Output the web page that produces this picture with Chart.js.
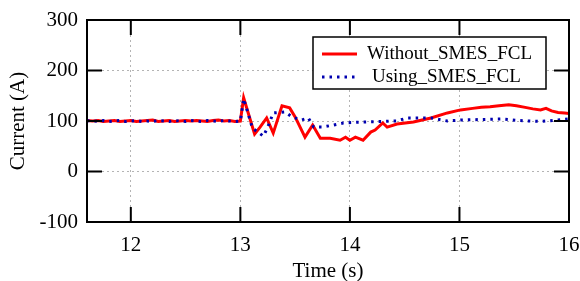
<!DOCTYPE html>
<html>
<head>
<meta charset="utf-8">
<script src="https://cdn.jsdelivr.net/npm/chart.js@4.4.0/dist/chart.umd.min.js"></script>
<style>
  html,body{margin:0;padding:0;background:#fff}
  canvas{display:block}
</style>
</head>
<body>
<canvas id="chart" width="580" height="281"></canvas>
<script>
// data
const seriesNames = ['Without_SMES_FCL', 'Using_SMES_FCL'];
const xTicks = [12, 13, 14, 15, 16];
const yTicks = [-100, 0, 100, 200, 300];

const redTime = [11.60,11.65,11.70,11.75,11.80,11.85,11.90,11.95,12.00,12.05,12.10,12.15,12.20,12.25,12.30,12.35,12.40,12.45,12.50,12.55,12.60,12.65,12.70,12.75,12.80,12.85,12.90,12.95,13.00,
  13.03,13.08,13.13,13.18,13.24,13.30,13.38,13.45,13.50,13.59,13.66,13.73,13.82,13.91,13.96,14.00,14.05,14.12,14.19,14.23,14.30,14.34,14.43,14.58,14.74,14.89,15.01,15.12,15.20,15.28,15.36,15.45,15.52,15.60,15.67,15.74,15.79,15.84,15.90,15.96,16.00];
const redCurrent = [101,100,101,99,100,101,99,100,101,99,100,101,102,99,100,101,99,100,101,100,101,100,99,101,102,100,101,99,100,
  146,110,74,88,106,76,130,126,108,68,92,66,66,62,68,62,68,62,78,82,96,88,94,98,106,116,122,125,127,128,130,132,130,127,124,122,125,120,117,116,115];

const blueTime = [11.60,11.65,11.70,11.75,11.80,11.85,11.90,11.95,12.00,12.05,12.10,12.15,12.20,12.25,12.30,12.35,12.40,12.45,12.50,12.55,12.60,12.65,12.70,12.75,12.80,12.85,12.90,12.95,13.00,
  13.03,13.11,13.21,13.25,13.30,13.41,13.47,13.56,13.62,13.67,13.75,13.85,13.94,14.12,14.43,14.52,14.74,14.89,15.01,15.20,15.38,15.55,15.74,15.90,16.00];
const blueCurrent = [101,99,100,101,99,100,101,99,100,101,99,100,99,101,100,99,101,100,99,101,100,99,101,100,99,101,100,99,100,
  144,86,70,88,116,118,108,102,106,88,88,92,96,98,100,106,106,100,102,103,104,101,99,102,104];

const FONT = 'Liberation Serif, Times New Roman, serif';

const redColor = '#ff0000';
const blueColor = '#0000b0';

// frame, inward ticks and legend box
const framePlugin = {
  id: 'frame',
  afterDatasetsDraw(chart){
    const {ctx, chartArea:a, scales:{x, y}} = chart;
    ctx.save();
    ctx.strokeStyle = '#000';
    ctx.lineWidth = 2;
    ctx.beginPath();
    xTicks.forEach(v=>{
      const px = x.getPixelForValue(v);
      if(px > a.right - 2) return;
      ctx.moveTo(px, a.bottom); ctx.lineTo(px, a.bottom - 15);
      ctx.moveTo(px, a.top); ctx.lineTo(px, a.top + 15);
    });
    yTicks.forEach(v=>{
      const py = y.getPixelForValue(v);
      if(py < a.top + 2 || py > a.bottom - 2) return;
      ctx.moveTo(a.left, py); ctx.lineTo(a.left + 15, py);
      ctx.moveTo(a.right, py); ctx.lineTo(a.right - 15, py);
    });
    ctx.stroke();
    ctx.strokeRect(a.left, a.top, a.right - a.left, a.bottom - a.top);

    // legend
    const bx = 313, by = 37, bw = 233, bh = 52;
    ctx.fillStyle = '#fff';
    ctx.fillRect(bx, by, bw, bh);
    ctx.lineWidth = 1.5;
    ctx.strokeRect(bx, by, bw, bh);
    ctx.font = '19px ' + FONT;
    ctx.textBaseline = 'middle';
    ctx.textAlign = 'left';
    chart.data.datasets.forEach((ds, i)=>{
      const ly = by + 17 + i * 23;
      ctx.beginPath();
      ctx.strokeStyle = ds.borderColor;
      ctx.lineWidth = ds.borderWidth;
      ctx.setLineDash(ds.borderDash || []);
      ctx.moveTo(bx + 9, ly); ctx.lineTo(bx + 44, ly);
      ctx.stroke();
      ctx.setLineDash([]);
      ctx.fillStyle = '#000';
      ctx.fillText(ds.label, bx + (i === 0 ? 54 : 59), ly);
    });
    ctx.restore();
  }
};

new Chart(document.getElementById('chart'), {
  type: 'line',
  data: {
    datasets: [
      {label: seriesNames[0], data: redTime.map((t,i)=>({x:t, y:redCurrent[i]})),
       borderColor: redColor, borderWidth: 3, pointRadius: 0, tension: 0, order: 1},
      {label: seriesNames[1], data: blueTime.map((t,i)=>({x:t, y:blueCurrent[i]})),
       borderColor: blueColor, borderWidth: 3, borderDash: [2.5, 5], pointRadius: 0, tension: 0, order: 0}
    ]
  },
  options: {
    responsive: false,
    animation: false,
    devicePixelRatio: 1,
    layout: {padding: {left: 0, right: 11, top: 20, bottom: 0}},
    plugins: {legend: {display: false}, tooltip: {enabled: false}},
    scales: {
      x: {
        type: 'linear', min: 11.6, max: 16,
        afterBuildTicks: s => { s.ticks = xTicks.map(v=>({value:v})); },
        afterFit: s => { s.height = 59; s.paddingRight = 0; s.paddingLeft = 0; },
        grid: {color: '#b4b4b4', lineWidth: 1, drawTicks: false},
        border: {display: false, dash: [2, 3]},
        ticks: {color: '#000', font: {family: FONT, size: 21}, padding: 11, maxRotation: 0},
        title: {display: true, text: 'Time (s)', color: '#000', font: {family: FONT, size: 21, lineHeight: 1}, padding: {top: 0, bottom: -1}}
      },
      y: {
        min: -100, max: 300,
        afterBuildTicks: s => { s.ticks = yTicks.map(v=>({value:v})); },
        afterFit: s => { s.width = 87; s.paddingTop = 0; s.paddingBottom = 0; },
        grid: {color: '#b4b4b4', lineWidth: 1, drawTicks: false},
        border: {display: false, dash: [2, 3]},
        ticks: {color: '#000', font: {family: FONT, size: 21}, padding: 9},
        title: {display: true, text: 'Current (A)', color: '#000', font: {family: FONT, size: 21, lineHeight: 1}, padding: {top: 8, bottom: 0}}
      }
    }
  },
  plugins: [framePlugin]
});
</script>
</body>
</html>
